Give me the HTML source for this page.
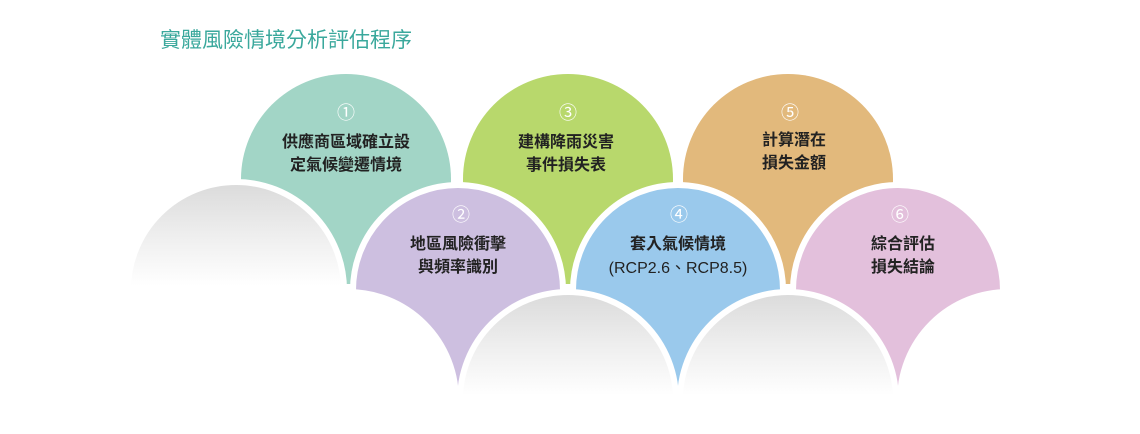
<!DOCTYPE html>
<html><head><meta charset="utf-8"><style>
html,body{margin:0;padding:0;background:#fff;width:1140px;height:434px;overflow:hidden;}
svg{display:block;}
text{font-family:"Liberation Sans","Noto Sans CJK TC",sans-serif;}
</style></head><body>
<svg width="1140" height="434" viewBox="0 0 1140 434" xmlns="http://www.w3.org/2000/svg">
<defs>
<linearGradient id="g" x1="0" y1="0" x2="0" y2="1">
<stop offset="0" stop-color="#dadada"/><stop offset="0.22" stop-color="#ececec"/><stop offset="0.48" stop-color="#fff"/><stop offset="1" stop-color="#fff"/>
</linearGradient>
</defs>
<rect width="1140" height="434" fill="#fff"/>
<text x="160" y="47" font-size="21" fill="#3aa89c">實體風險情境分析評估程序</text>
<!-- row1 -->
<path d="M241 179 A105 105 0 0 1 451 179 L451 284 L241 284Z" fill="#a2d5c6"/>
<path d="M463 179 A105 105 0 0 1 673 179 L673 284 L463 284Z" fill="#b8d86c"/>
<path d="M683 179 A105 105 0 0 1 893 179 L893 284 L683 284Z" fill="#e2b97c"/>
<!-- row2 -->
<g stroke="#fff" stroke-width="6">
<circle cx="236" cy="290" r="108" fill="url(#g)"/>
<path d="M353 290 A105 105 0 0 1 563 290 L563 394 L353 394Z" fill="#cdbfe0"/>
<path d="M573 290 A105 105 0 0 1 783 290 L783 394 L573 394Z" fill="#9ac9ec"/>
<path d="M793 290 A105 105 0 0 1 1003 290 L1003 394 L793 394Z" fill="#e3c0dc"/>
</g>
<rect x="120" y="290" width="230" height="144" fill="#fff"/>
<!-- row3 -->
<g stroke="#fff" stroke-width="6">
<circle cx="348" cy="400" r="108" fill="#fff"/>
<circle cx="568" cy="400" r="108" fill="url(#g)"/>
<circle cx="788" cy="400" r="108" fill="url(#g)"/>
<circle cx="1008" cy="400" r="108" fill="#fff"/>
</g>
<rect x="0" y="400" width="1140" height="34" fill="#fff"/>
<g font-size="16" font-weight="bold" fill="#222" text-anchor="middle">
<g fill="#fff" font-weight="normal" font-size="18">
<text x="346" y="119">①</text><text x="568" y="119">③</text><text x="790" y="119">⑤</text>
<text x="461" y="221">②</text><text x="679" y="221">④</text><text x="900" y="221">⑥</text>
</g>
<text x="346" y="147">供應商區域確立設</text><text x="346" y="170">定氣候變遷情境</text>
<text x="566" y="147">建構降雨災害</text><text x="566" y="170">事件損失表</text>
<text x="794" y="145">計算潛在</text><text x="794" y="168">損失金額</text>
<text x="458" y="249">地區風險衝擊</text><text x="458" y="272">與頻率識別</text>
<text x="678" y="249">套入氣候情境</text><text x="678" y="273" font-weight="normal">(RCP2.6、RCP8.5)</text>
<text x="903" y="249">綜合評估</text><text x="903" y="272">損失結論</text>
</g>
</svg>
</body></html>
